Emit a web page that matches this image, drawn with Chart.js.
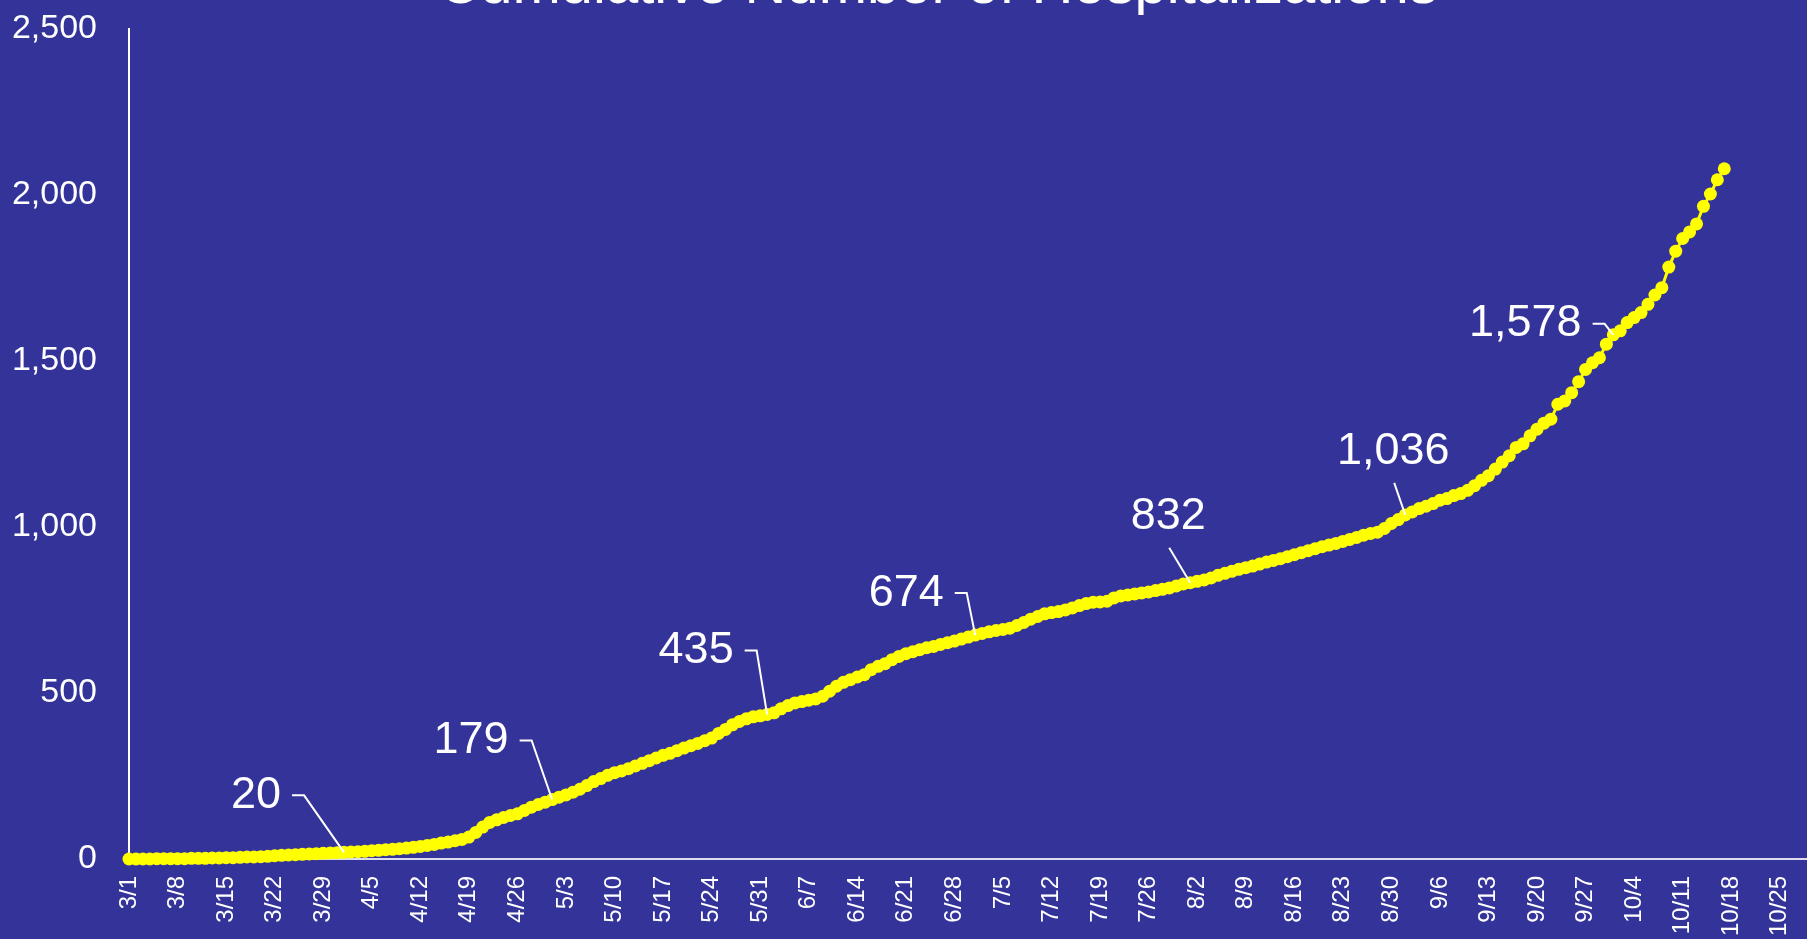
<!DOCTYPE html>
<html><head><meta charset="utf-8">
<script src="https://cdn.jsdelivr.net/npm/chart.js@4.4.1/dist/chart.umd.min.js"></script>
<style>
html,body{margin:0;padding:0;background:#333399;overflow:hidden;width:1807px;height:939px;}
#wrap{position:absolute;left:0;top:-60px;width:1913px;height:999px;}
</style></head><body>
<div id="wrap"><canvas id="c"></canvas></div>
<script>
const chartTitle = 'Cumulative Number of Hospitalizations';
const tickLabels = ['3/1','3/8','3/15','3/22','3/29','4/5','4/12','4/19','4/26','5/3','5/10','5/17','5/24','5/31','6/7','6/14','6/21','6/28','7/5','7/12','7/19','7/26','8/2','8/9','8/16','8/23','8/30','9/6','9/13','9/20','9/27','10/4','10/11','10/18','10/25','11/1'];
const yTicks = [0, 500, 1000, 1500, 2000, 2500];
const xAxisDays = 250;
// daily cumulative hospitalizations from 3/1 (day 0) to 10/17 (day 230)
const hospitalizations = [
  0,0,0,0,1,1,1,1,1,2,2,2,3,3,4,4,5,6,6,7,8,10,11,12,13,14,15,16,17,18,19,20,
  21,22,23,25,26,28,29,31,33,35,38,41,44,48,51,55,59,66,80,96,110,118,125,131,136,146,156,164,171,179,
  186,193,201,210,221,233,242,252,260,265,272,280,288,296,304,312,318,326,334,341,348,356,364,378,390,404,414,422,428,431,435,
  440,452,462,470,474,478,482,490,505,520,532,540,548,555,570,580,588,600,610,618,624,630,636,640,646,651,656,662,668,674,
  679,684,688,691,695,703,712,722,730,738,742,745,750,756,763,769,773,774,776,786,792,795,798,801,804,808,812,816,822,828,832,
  836,840,846,854,860,866,872,877,882,888,894,899,904,910,916,922,928,934,940,945,950,956,962,968,975,980,984,995,1010,1022,1036,
  1045,1055,1062,1070,1080,1085,1094,1100,1110,1124,1140,1154,1174,1195,1214,1239,1250,1274,1294,1312,1324,1369,1379,1404,1437,1474,1494,1509,1550,1578,
  1590,1615,1630,1645,1670,1698,1720,1782,1830,1868,1888,1912,1965,2002,2045,2078
];
const calloutDays = [31, 61, 92, 122, 153, 184, 214];

const FONT = '"Liberation Sans", Arial, sans-serif';
const calloutStyle = [
  {dx:-88, dy:-57, kind:'side'},
  {dx:-81, dy:-59, kind:'side'},
  {dx:-71, dy:-64, kind:'side'},
  {dx:-69, dy:-42, kind:'side'},
  {dx:-22, dy:-66, kind:'below'},
  {dx:-12, dy:-63, kind:'below'},
  {dx:-88, dy:-11, kind:'side'}
];

const calloutPlugin = {
  id: 'callouts',
  afterDatasetsDraw(chart) {
    const ctx = chart.ctx;
    const meta = chart.getDatasetMeta(0);
    ctx.save();
    ctx.font = '45px ' + FONT;
    ctx.fillStyle = '#ffffff';
    ctx.strokeStyle = '#ffffff';
    ctx.lineWidth = 2;
    ctx.textAlign = 'center';
    ctx.textBaseline = 'middle';
    calloutDays.forEach((d, i) => {
      const pt = meta.data[d];
      const st = calloutStyle[i];
      const txt = hospitalizations[d].toLocaleString('en-US');
      const tx = pt.x + st.dx, ty = pt.y + st.dy;
      ctx.fillText(txt, tx, ty);
      const w = ctx.measureText(txt).width;
      ctx.beginPath();
      if (st.kind === 'side') {
        const sx = tx + w / 2 + 11;
        ctx.moveTo(sx, ty);
        ctx.lineTo(sx + 12, ty);
        ctx.lineTo(pt.x, pt.y);
      } else {
        ctx.moveTo(tx + 1, ty + 31);
        ctx.lineTo(pt.x, pt.y);
      }
      ctx.stroke();
    });
    ctx.restore();
  }
};

new Chart(document.getElementById('c'), {
  type: 'line',
  data: {
    datasets: [{
      data: hospitalizations.map((v, i) => ({x: i, y: v})),
      borderColor: '#ffff00',
      backgroundColor: '#ffff00',
      borderWidth: 3,
      pointRadius: 6.5,
      pointBorderWidth: 0,
      pointBackgroundColor: '#ffff00',
      tension: 0,
      clip: false
    }]
  },
  options: {
    responsive: true,
    maintainAspectRatio: false,
    animation: false,
    events: [],
    layout: {padding: {left: 13, right: 50, top: 0, bottom: 0}},
    plugins: {
      legend: {display: false},
      tooltip: {enabled: false},
      title: {
        display: true,
        text: chartTitle,
        color: '#ffffff',
        font: {family: FONT, size: 58, weight: 'normal', lineHeight: 1.2},
        padding: {top: 12, bottom: 7}
      }
    },
    scales: {
      x: {
        type: 'linear',
        min: 0,
        max: xAxisDays,
        grid: {display: false, drawTicks: false},
        border: {display: true, color: '#dcdcee', width: 2},
        afterFit: (s) => { s.height = 80; },
        ticks: {
          stepSize: 7,
          autoSkip: false,
          maxRotation: 90,
          minRotation: 90,
          padding: 17,
          color: '#ffffff',
          font: {family: FONT, size: 24},
          callback: (v) => (v % 7 === 0 && tickLabels[v / 7] ? tickLabels[v / 7] : '')
        }
      },
      y: {
        min: yTicks[0],
        max: yTicks[yTicks.length - 1],
        grid: {display: false, drawTicks: false},
        border: {display: true, color: '#ffffff', width: 2},
        afterFit: (s) => { s.width = 116; },
        afterBuildTicks: (s) => { s.ticks = yTicks.map(v => ({value: v})); },
        ticks: {
          padding: 32,
          color: '#ffffff',
          font: {family: FONT, size: 34},
          callback: (v) => v.toLocaleString('en-US')
        }
      }
    }
  },
  plugins: [calloutPlugin]
});
</script>
</body></html>
